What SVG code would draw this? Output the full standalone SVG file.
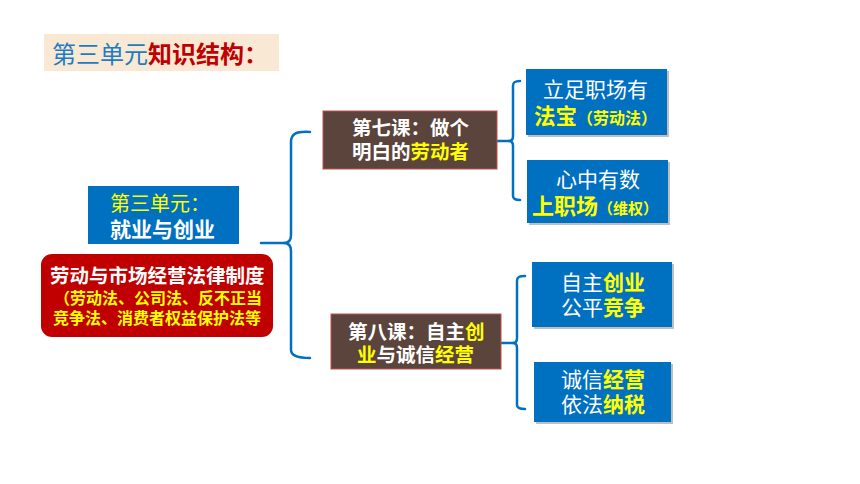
<svg xmlns="http://www.w3.org/2000/svg" width="860" height="484" viewBox="0 0 860 484">
<defs>
<style>
text{font-family:"Liberation Sans","Noto Sans CJK SC",sans-serif;}
.w{fill:#ffffff;}
.y{fill:#ffff00;font-weight:bold;}
.b{font-weight:bold;}
.blue{fill:#0070c0;}
.brown{fill:#5b443b;stroke:#c0504d;stroke-width:1;}
.shadow{fill:#000;opacity:0.25;}
.conn{fill:none;stroke:#0070c0;stroke-width:2.5;stroke-linecap:round;stroke-linejoin:round;}
</style>
</defs>
<rect width="860" height="484" fill="#ffffff"/>
<g id="title">
<rect x="44" y="34" width="235" height="37" fill="#f9e8d3"/>
<text x="52" y="63" font-size="24"><tspan fill="#1e7cc4">第三单元</tspan><tspan fill="#c00000" font-weight="bold">知识结构：</tspan></text>
</g>
<g id="connectors">
<path class="conn" d="M310,132 C296,131 291,134 291,142 L291,235 Q291,243 284,243 Q291,243 291,251 L291,350 Q291,358 310,358"/>
<path class="conn" d="M261,243 L284,243"/>
<path class="conn" d="M520,81 C515,81 513,82 513,86 L513,136 Q513,141 509,141 Q513,141 513,146 L513,196 Q513,200 520,200"/>
<path class="conn" d="M497,141 L509,141"/>
<path class="conn" d="M525,276 C519,276 517,277 517,281 L517,338 Q517,343 513,343 Q517,343 517,348 L517,405 Q517,409 525,409"/>
<path class="conn" d="M501,343 L513,343"/>
</g>
<g id="unit">
<rect x="88" y="186" width="151" height="58" class="blue"/>
<text x="110" y="211" font-size="20" fill="#ffff00">第三单元：</text>
<text x="110" y="237" font-size="21" class="w b">就业与创业</text>
</g>
<g id="law">
<rect x="41" y="254" width="232" height="83" rx="11" fill="#c00000"/>
<text x="50" y="283" font-size="19.5" class="w b">劳动与市场经营法律制度</text>
<text x="54" y="304" font-size="16" class="y">（劳动法、公司法、反不正当</text>
<text x="53" y="324" font-size="16" class="y">竞争法、消费者权益保护法等</text>
</g>
<g id="lesson7">
<rect x="323" y="111" width="174" height="58" class="brown"/>
<text x="352" y="135" font-size="19.5" class="w b">第七课：做个</text>
<text x="352" y="159" font-size="19.5" class="b"><tspan class="w">明白的</tspan><tspan class="y">劳动者</tspan></text>
</g>
<g id="lesson8">
<rect x="331" y="314" width="170" height="55" class="brown"/>
<text x="348" y="339" font-size="19.5" class="b"><tspan class="w">第八课：自主</tspan><tspan class="y">创</tspan></text>
<text x="357" y="362" font-size="19.5" class="b"><tspan class="y">业</tspan><tspan class="w">与诚信</tspan><tspan class="y">经营</tspan></text>
</g>
<g id="box1">
<rect x="528" y="71" width="141" height="66" class="shadow"/>
<rect x="526" y="69" width="141" height="66" class="blue"/>
<text x="543" y="97" font-size="21" class="w">立足职场有</text>
<text x="534" y="124"><tspan font-size="21.5" class="y">法宝</tspan><tspan font-size="16" class="y">（劳动法）</tspan></text>
</g>
<g id="box2">
<rect x="529" y="162" width="141" height="63" class="shadow"/>
<rect x="527" y="160" width="141" height="63" class="blue"/>
<text x="556" y="187" font-size="21" class="w">心中有数</text>
<text x="532" y="214"><tspan font-size="22" class="y">上职场</tspan><tspan font-size="15" class="y">（维权）</tspan></text>
</g>
<g id="box3">
<rect x="534" y="264" width="140" height="65" class="shadow"/>
<rect x="532" y="262" width="140" height="65" class="blue"/>
<text x="561" y="290" font-size="21"><tspan class="w">自主</tspan><tspan class="y">创业</tspan></text>
<text x="561" y="315" font-size="21"><tspan class="w">公平</tspan><tspan class="y">竞争</tspan></text>
</g>
<g id="box4">
<rect x="536" y="364" width="137" height="60" class="shadow"/>
<rect x="534" y="362" width="137" height="60" class="blue"/>
<text x="561" y="387" font-size="21"><tspan class="w">诚信</tspan><tspan class="y">经营</tspan></text>
<text x="561" y="412" font-size="21"><tspan class="w">依法</tspan><tspan class="y">纳税</tspan></text>
</g>
</svg>
